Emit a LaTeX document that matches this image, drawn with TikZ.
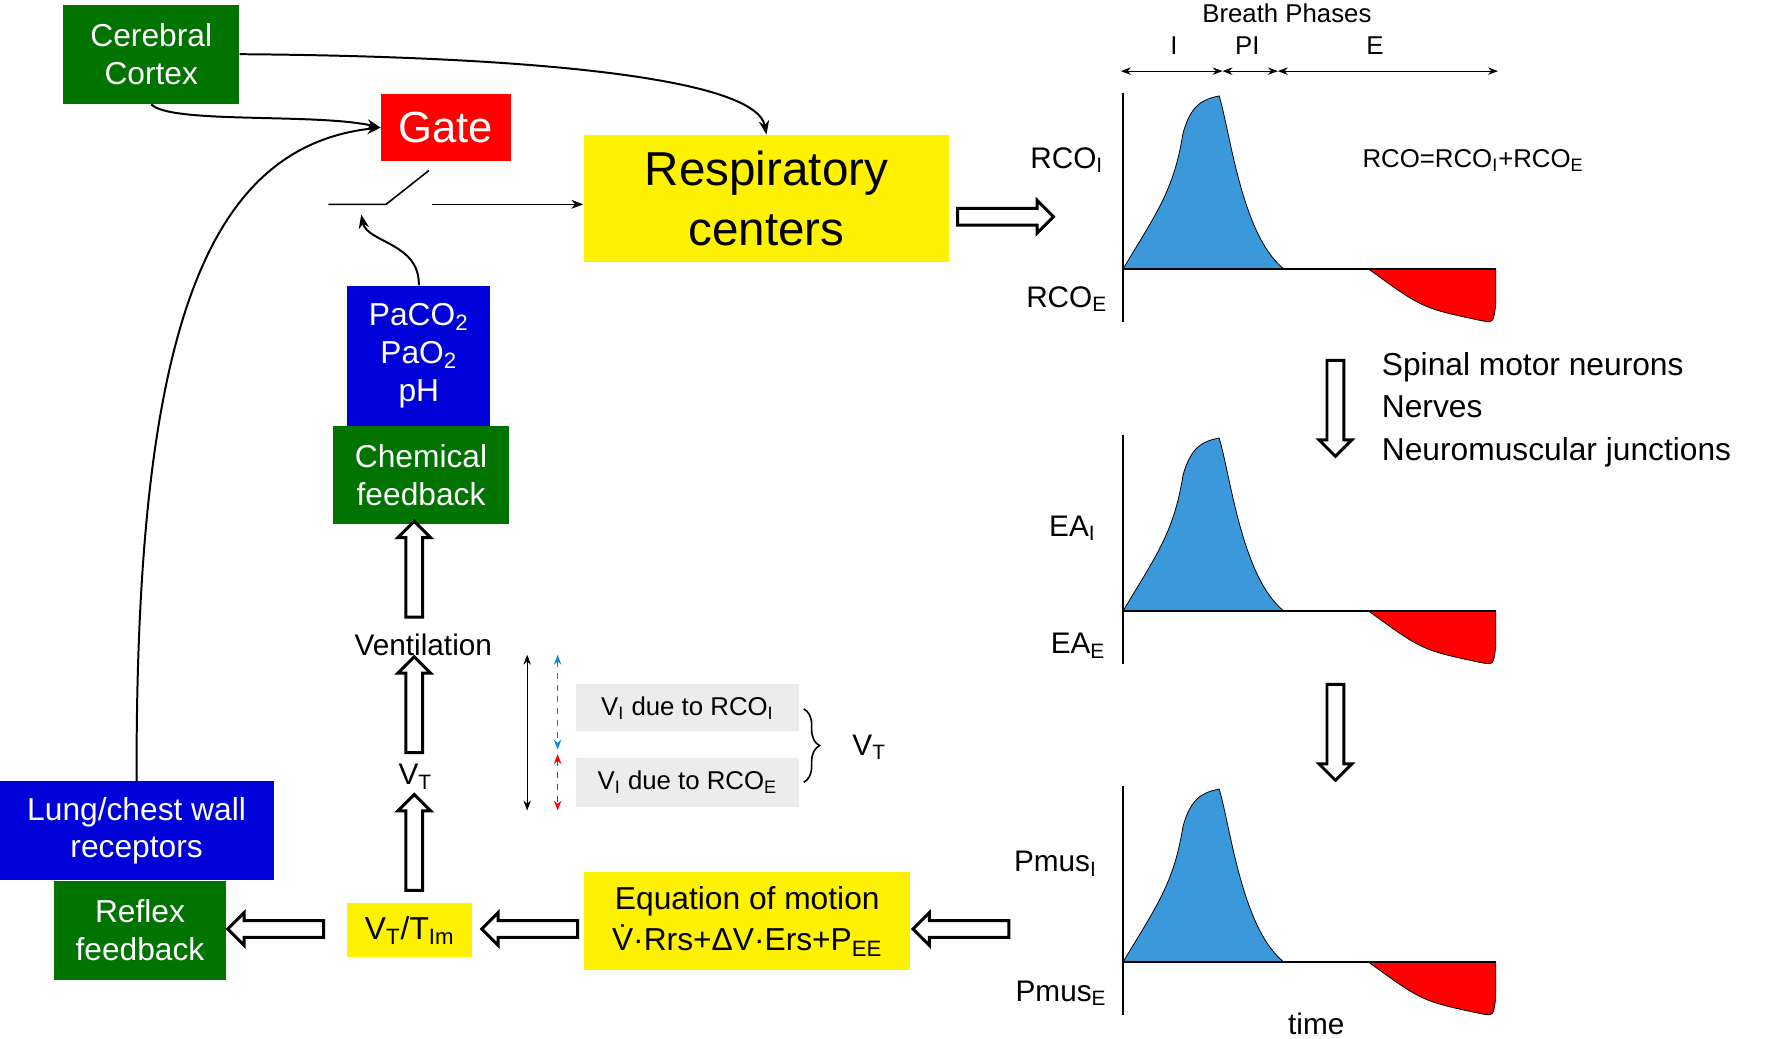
\documentclass[tikz,border=0pt]{standalone}
\usepackage{fontspec}
\setmainfont{Liberation Sans}
\usetikzlibrary{arrows.meta, positioning, shapes.arrows, decorations.pathreplacing}

\tikzset{
  box/.style={draw=none, align=center, inner sep=2pt, font=\fontsize{16}{19}\selectfont},
  gbox/.style={box, fill=green!45!black, text=white},
  bbox/.style={box, fill=blue!85!black, text=white},
  ybox/.style={box, fill=yellow},
  hollow/.style={single arrow, draw, line width=1.5pt, fill=white, inner sep=3.5pt,
    single arrow head extend=4pt, single arrow head indent=0pt, minimum height=#1},
  lbl/.style={font=\fontsize{15}{18}\selectfont},
  small/.style={font=\fontsize{13}{15}\selectfont},
  feed/.style={-{Stealth[length=7pt]}, line width=1pt},
}

\begin{document}
\begin{tikzpicture}[x=0.02cm, y=-0.02cm]
\useasboundingbox (0,0) rectangle (1568,920);

% left feedback boxes
\node[gbox, minimum width=3.12cm, minimum height=1.76cm] (cortex) at (134,48) {Cerebral\\Cortex};
\node[box, fill=red, text=white, font=\fontsize{22}{26}\selectfont, minimum width=2.3cm, minimum height=1.2cm] (gate) at (395,113) {Gate};
\node[ybox, font=\fontsize{24}{30}\selectfont, minimum width=6.48cm, minimum height=2.26cm] (resp) at (679,176) {Respiratory\\centers};
\node[bbox, minimum width=2.54cm, minimum height=2.48cm] (gas) at (371,315) {PaCO\textsubscript{2}\\PaO\textsubscript{2}\\pH};
\node[gbox, minimum width=3.12cm, minimum height=1.74cm] (chem) at (373,421) {Chemical\\feedback};
\node[bbox, minimum width=4.86cm, minimum height=1.76cm] (lung) at (121,736) {Lung/chest wall\\receptors};
\node[gbox, minimum width=3.06cm, minimum height=1.76cm] (reflex) at (124,824) {Reflex\\feedback};
\node[ybox, minimum width=2.22cm, minimum height=0.96cm] (ratio) at (363,824) {V\textsubscript{T}/T\textsubscript{Im}};
\node[ybox, font=\fontsize{16}{21}\selectfont, minimum width=5.78cm, minimum height=1.74cm] (motion) at (662,816) {Equation of motion\\\.{V}·Rrs+ΔV·Ers+P\textsubscript{EE}};
\node[lbl] (vent) at (375,571) {Ventilation};
\node[lbl] (vt) at (368,688) {V\textsubscript{T}};

% switch
\coordinate (sw1) at (291,181);
\coordinate (sw2) at (342,181);
\coordinate (sw3) at (380,151);
\coordinate (sw4) at (383,181);
\coordinate (swin) at (320,190);
\draw[line width=0.8pt] (sw1) -- (sw2) -- (sw3);
\draw[-{Stealth[length=6pt]}] (sw4) -- (resp.west |- sw4);
\draw[feed] (gas.north) .. controls (372,215) and (325,215) .. (swin);

% cortex and reflex paths
\draw[feed] (cortex.south) .. controls (150,110) and (280,100) .. (gate.west);
\draw[feed] (cortex.east) .. controls (480,50) and (670,70) .. (resp.north);
\draw[feed] (lung.north) .. controls (120,300) and (180,130) .. (gate.west);

% hollow arrows
\node[hollow=1.7cm, shape border rotate=90] (h1) at (367,508) {};
\node[hollow=1.7cm, shape border rotate=90] (h2) at (367,628) {};
\node[hollow=1.7cm, shape border rotate=90] (h3) at (367,750) {};
\node[hollow=1.7cm, shape border rotate=180] (h4) at (248,823) {};
\node[hollow=1.7cm, shape border rotate=180] (h5) at (473,823) {};
\node[hollow=1.7cm, shape border rotate=180] (h6) at (855,823) {};
\node[hollow=1.7cm] (h7) at (887,192) {};
\node[hollow=1.7cm, shape border rotate=270] (h8) at (1183,358) {};
\node[hollow=1.7cm, shape border rotate=270] (h9) at (1183,645) {};

% tidal volume split
\coordinate (va) at (467,580);
\coordinate (vb) at (467,718);
\coordinate (ba) at (494,580);
\coordinate (bb) at (494,664);
\coordinate (ra) at (494,668);
\coordinate (rb) at (494,718);
\draw[{Stealth[length=5pt]}-{Stealth[length=5pt]}] (va) -- (vb);
\draw[{Stealth[length=5pt]}-{Stealth[length=5pt]}, dashed, cyan!70!blue, thick] (ba) -- (bb);
\draw[{Stealth[length=5pt]}-{Stealth[length=5pt]}, dashed, red, thick] (ra) -- (rb);
\node[small, fill=gray!15, minimum width=3.94cm, minimum height=0.84cm] (vi1) at (609,627) {V\textsubscript{I} due to RCO\textsubscript{I}};
\node[small, fill=gray!15, minimum width=3.94cm, minimum height=0.86cm] (vi2) at (609,693) {V\textsubscript{I} due to RCO\textsubscript{E}};
\draw[decorate, decoration={brace, amplitude=8pt}, thick] (712,628) -- (712,693);
\node[lbl] (vtot) at (770,662) {V\textsubscript{T}};

% breath phase plots
\foreach \b in {238, 541, 852} {
  \fill[cyan!70!blue!80] (995,\b) .. controls (1025,\b-50) and (1040,\b-70) .. (1048,\b-120)
    .. controls (1055,\b-145) and (1065,\b-150) .. (1080,\b-153)
    .. controls (1090,\b-120) and (1100,\b-30) .. (1137,\b) -- cycle;
  \draw (995,\b) .. controls (1025,\b-50) and (1040,\b-70) .. (1048,\b-120)
    .. controls (1055,\b-145) and (1065,\b-150) .. (1080,\b-153)
    .. controls (1090,\b-120) and (1100,\b-30) .. (1137,\b);
  \filldraw[fill=red] (1212,\b) -- (1325,\b) -- (1325,\b+32) .. controls (1323,\b+48) .. (1312,\b+46)
    .. controls (1260,\b+35) .. (1212,\b) -- cycle;
  \draw[line width=1pt] (995,\b-156) -- (995,\b+47);
  \draw[line width=1pt] (995,\b) -- (1325,\b);
}

% phase labels
\node[small] (bp) at (1140,12) {Breath Phases};
\node[small] (pi1) at (1040,40) {I};
\node[small] (pi2) at (1105,40) {PI};
\node[small] (pi3) at (1218,40) {E};
\coordinate (t0) at (993,63);
\coordinate (t1) at (1083,63);
\coordinate (t2) at (1132,63);
\coordinate (t3) at (1327,63);
\draw[{Stealth[length=5pt]}-{Stealth[length=5pt]}] (t0) -- (t1);
\draw[{Stealth[length=5pt]}-{Stealth[length=5pt]}] (t1) -- (t2);
\draw[{Stealth[length=5pt]}-{Stealth[length=5pt]}] (t2) -- (t3);
\node[small] (rcosum) at (1305,142) {RCO=RCO\textsubscript{I}+RCO\textsubscript{E}};

\node[lbl] (rcoi) at (945,142) {RCO\textsubscript{I}};
\node[lbl] (rcoe) at (945,265) {RCO\textsubscript{E}};
\node[lbl] (eai) at (950,468) {EA\textsubscript{I}};
\node[lbl] (eae) at (955,572) {EA\textsubscript{E}};
\node[lbl] (pmi) at (935,765) {Pmus\textsubscript{I}};
\node[lbl] (pme) at (940,880) {Pmus\textsubscript{E}};
\node[lbl] (time) at (1166,907) {time};
\node[font=\fontsize{16}{21.5}\selectfont, align=left, anchor=west] (motor) at (1218,363) {Spinal motor neurons\\Nerves\\Neuromuscular junctions};
\end{tikzpicture}
\end{document}
